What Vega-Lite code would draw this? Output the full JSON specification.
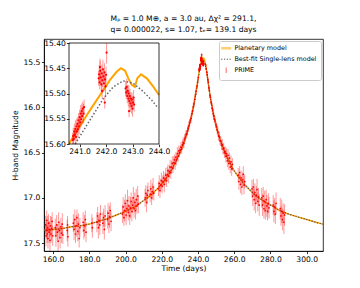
{
  "$schema": "https://vega.github.io/schema/vega-lite/v6.json",
  "width": 279,
  "height": 212,
  "autosize": {"type": "none"},
  "padding": {"left": 44, "top": 39, "right": 37, "bottom": 37},
  "background": "white",
  "title": {
    "text": ["Mₚ = 1.0 M⊕, a = 3.0 au,  Δχ² = 291.1,", "q= 0.000022, s= 1.07, tₑ= 139.1 days"],
    "font": "DejaVu Sans", "fontSize": 7.6, "fontWeight": "normal", "color": "#000",
    "anchor": "middle", "offset": 5, "lineHeight": 11
  },
  "config": {
    "view": {"stroke": "#000", "strokeWidth": 0.8},
    "axis": {
      "labelFont": "DejaVu Sans", "labelFontSize": 7.6, "labelColor": "#000",
      "titleFont": "DejaVu Sans", "titleFontSize": 7.6, "titleFontWeight": "normal", "titleColor": "#000",
      "tickColor": "#000", "tickSize": 2.6, "tickWidth": 0.8,
      "domainColor": "#000", "domainWidth": 0.8, "grid": false,
      "labelOverlap": false, "labelBound": false, "labelFlush": false
    },
    "axisX": {"labelOverlap": false, "labelSeparation": 0},
    "axisBottom": {"labelOverlap": false}
  },
  "datasets": {
    "pm": [
      {"t":155,"m":17.36},{"t":160,"m":17.35},{"t":165,"m":17.34},{"t":170,"m":17.32},{"t":175,"m":17.31},
      {"t":180,"m":17.29},{"t":185,"m":17.26},{"t":190,"m":17.23},{"t":195,"m":17.19},{"t":200,"m":17.15},
      {"t":205,"m":17.10},{"t":210,"m":17.03},{"t":214,"m":16.97},{"t":218,"m":16.89},{"t":222,"m":16.80},
      {"t":226,"m":16.67},{"t":228,"m":16.59},{"t":230,"m":16.50},{"t":232,"m":16.40},{"t":234,"m":16.28},
      {"t":236,"m":16.13},{"t":237,"m":16.04},{"t":238,"m":15.93},{"t":239,"m":15.81},{"t":240,"m":15.69},
      {"t":240.6,"m":15.60},{"t":240.83,"m":15.579},{"t":241.02,"m":15.564},{"t":241.27,"m":15.543},
      {"t":241.52,"m":15.523},{"t":241.9,"m":15.493},{"t":242.15,"m":15.473},{"t":242.4,"m":15.457},
      {"t":242.56,"m":15.45},{"t":242.72,"m":15.455},{"t":242.84,"m":15.47},{"t":242.97,"m":15.483},
      {"t":243.09,"m":15.487},{"t":243.18,"m":15.47},{"t":243.32,"m":15.462},{"t":243.54,"m":15.47},
      {"t":243.79,"m":15.487},{"t":244.0,"m":15.503},{"t":244.5,"m":15.56},{"t":245,"m":15.63},
      {"t":245.6,"m":15.72},{"t":246.3,"m":15.82},{"t":247,"m":15.91},{"t":248,"m":16.02},{"t":249,"m":16.12},
      {"t":250,"m":16.20},{"t":251,"m":16.28},{"t":252,"m":16.34},{"t":253,"m":16.40},{"t":254,"m":16.45},
      {"t":255,"m":16.50},{"t":256,"m":16.55},{"t":257,"m":16.59},{"t":258,"m":16.63},{"t":259,"m":16.67},
      {"t":260,"m":16.70},{"t":262,"m":16.76},{"t":264,"m":16.81},{"t":266,"m":16.86},{"t":268,"m":16.90},
      {"t":270,"m":16.94},{"t":272,"m":16.98},{"t":275,"m":17.02},{"t":278,"m":17.06},{"t":281,"m":17.09},
      {"t":285,"m":17.14},{"t":290,"m":17.18},{"t":295,"m":17.21},{"t":300,"m":17.24},{"t":305,"m":17.27},
      {"t":309,"m":17.29}
    ],
    "sl": [
      {"t":155,"m":17.36},{"t":160,"m":17.35},{"t":165,"m":17.34},{"t":170,"m":17.32},{"t":175,"m":17.31},
      {"t":180,"m":17.29},{"t":185,"m":17.26},{"t":190,"m":17.23},{"t":195,"m":17.19},{"t":200,"m":17.15},
      {"t":205,"m":17.10},{"t":210,"m":17.03},{"t":214,"m":16.97},{"t":218,"m":16.89},{"t":222,"m":16.80},
      {"t":226,"m":16.67},{"t":228,"m":16.59},{"t":230,"m":16.50},{"t":232,"m":16.40},{"t":234,"m":16.28},
      {"t":236,"m":16.13},{"t":237,"m":16.05},{"t":238,"m":15.95},{"t":239,"m":15.83},{"t":240,"m":15.70},
      {"t":240.83,"m":15.60},{"t":241.4,"m":15.552},{"t":241.9,"m":15.51},{"t":242.27,"m":15.487},
      {"t":242.65,"m":15.475},{"t":243.03,"m":15.48},{"t":243.4,"m":15.496},{"t":243.72,"m":15.513},
      {"t":243.97,"m":15.529},{"t":244.5,"m":15.57},{"t":245,"m":15.63},
      {"t":245.6,"m":15.72},{"t":246.3,"m":15.82},{"t":247,"m":15.91},{"t":248,"m":16.02},{"t":249,"m":16.12},
      {"t":250,"m":16.20},{"t":251,"m":16.28},{"t":252,"m":16.34},{"t":253,"m":16.40},{"t":254,"m":16.45},
      {"t":255,"m":16.50},{"t":256,"m":16.55},{"t":257,"m":16.59},{"t":258,"m":16.63},{"t":259,"m":16.67},
      {"t":260,"m":16.70},{"t":262,"m":16.76},{"t":264,"m":16.81},{"t":266,"m":16.86},{"t":268,"m":16.90},
      {"t":270,"m":16.94},{"t":272,"m":16.98},{"t":275,"m":17.02},{"t":278,"m":17.06},{"t":281,"m":17.09},
      {"t":285,"m":17.14},{"t":290,"m":17.18},{"t":295,"m":17.21},{"t":300,"m":17.24},{"t":305,"m":17.27},
      {"t":309,"m":17.29}
    ],
    "obs": [
      {"t":155.9,"m":17.30,"e":0.10},{"t":156.1,"m":17.42,"e":0.12},{"t":156.3,"m":17.36,"e":0.09},{"t":156.5,"m":17.25,"e":0.11},
      {"t":156.8,"m":17.40,"e":0.10},{"t":157.0,"m":17.33,"e":0.13},{"t":157.2,"m":17.45,"e":0.11},{"t":157.5,"m":17.28,"e":0.10},
      {"t":157.8,"m":17.38,"e":0.12},{"t":158.0,"m":17.35,"e":0.09},{"t":158.3,"m":17.47,"e":0.12},{"t":158.6,"m":17.31,"e":0.11},
      {"t":158.9,"m":17.40,"e":0.10},{"t":159.2,"m":17.34,"e":0.13},{"t":159.5,"m":17.26,"e":0.10},{"t":159.8,"m":17.42,"e":0.11},
      {"t":161.2,"m":17.33,"e":0.10},{"t":161.6,"m":17.42,"e":0.12},{"t":162.0,"m":17.30,"e":0.11},{"t":162.4,"m":17.38,"e":0.09},
      {"t":162.8,"m":17.48,"e":0.13},{"t":163.1,"m":17.27,"e":0.11},{"t":163.5,"m":17.36,"e":0.10},{"t":163.9,"m":17.44,"e":0.12},
      {"t":164.3,"m":17.32,"e":0.10},{"t":164.7,"m":17.39,"e":0.11},{"t":165.1,"m":17.29,"e":0.12},{"t":165.4,"m":17.41,"e":0.10},
      {"t":167.8,"m":17.36,"e":0.12},{"t":168.0,"m":17.30,"e":0.10},{"t":168.2,"m":17.43,"e":0.11},
      {"t":171.2,"m":17.28,"e":0.10},{"t":171.6,"m":17.35,"e":0.12},{"t":172.0,"m":17.24,"e":0.11},{"t":172.4,"m":17.40,"e":0.10},
      {"t":172.8,"m":17.31,"e":0.12},{"t":173.2,"m":17.22,"e":0.09},{"t":173.6,"m":17.37,"e":0.11},{"t":174.0,"m":17.29,"e":0.12},
      {"t":174.4,"m":17.45,"e":0.10},{"t":174.8,"m":17.33,"e":0.11},
      {"t":176.6,"m":17.27,"e":0.11},{"t":177.0,"m":17.36,"e":0.10},{"t":177.4,"m":17.31,"e":0.12},{"t":177.8,"m":17.24,"e":0.10},
      {"t":178.2,"m":17.38,"e":0.11},
      {"t":181.4,"m":17.28,"e":0.10},{"t":181.7,"m":17.33,"e":0.11},
      {"t":184.2,"m":17.27,"e":0.11},{"t":184.6,"m":17.20,"e":0.10},{"t":185.0,"m":17.33,"e":0.12},{"t":185.4,"m":17.25,"e":0.09},
      {"t":185.8,"m":17.30,"e":0.11},{"t":186.2,"m":17.18,"e":0.10},{"t":187.5,"m":17.28,"e":0.12},{"t":187.9,"m":17.22,"e":0.10},
      {"t":188.3,"m":17.35,"e":0.11},{"t":188.7,"m":17.20,"e":0.12},{"t":190.0,"m":17.24,"e":0.10},{"t":190.4,"m":17.17,"e":0.11},
      {"t":190.8,"m":17.29,"e":0.10},{"t":191.2,"m":17.21,"e":0.12},{"t":191.6,"m":17.14,"e":0.09},{"t":192.0,"m":17.26,"e":0.11},
      {"t":198.3,"m":17.18,"e":0.10},{"t":198.7,"m":17.10,"e":0.11},{"t":199.1,"m":17.22,"e":0.09},{"t":199.5,"m":17.14,"e":0.12},
      {"t":199.9,"m":17.06,"e":0.10},{"t":200.3,"m":17.19,"e":0.11},{"t":200.7,"m":17.12,"e":0.10},{"t":201.1,"m":17.03,"e":0.12},
      {"t":201.5,"m":17.16,"e":0.09},{"t":201.9,"m":17.09,"e":0.11},{"t":202.3,"m":17.20,"e":0.10},{"t":202.7,"m":17.11,"e":0.12},
      {"t":203.1,"m":17.04,"e":0.10},{"t":203.5,"m":17.15,"e":0.11},{"t":203.9,"m":17.08,"e":0.09},{"t":204.3,"m":17.00,"e":0.12},
      {"t":204.7,"m":17.12,"e":0.10},{"t":205.1,"m":17.05,"e":0.11},{"t":205.5,"m":17.14,"e":0.10},{"t":205.9,"m":17.02,"e":0.12},
      {"t":206.3,"m":17.09,"e":0.09},{"t":206.7,"m":16.98,"e":0.11},{"t":207.1,"m":17.07,"e":0.10},
      {"t":210.8,"m":17.00,"e":0.10},{"t":211.2,"m":16.95,"e":0.09},{"t":211.6,"m":17.05,"e":0.11},{"t":212.0,"m":16.97,"e":0.10},
      {"t":212.4,"m":16.92,"e":0.09},
      {"t":213.6,"m":16.96,"e":0.09},{"t":214.0,"m":16.90,"e":0.10},{"t":214.4,"m":17.00,"e":0.08},{"t":214.8,"m":16.93,"e":0.09},
      {"t":215.2,"m":16.88,"e":0.10},{"t":215.6,"m":16.95,"e":0.08},
      {"t":218.2,"m":16.90,"e":0.08},{"t":218.6,"m":16.84,"e":0.09},{"t":219.0,"m":16.92,"e":0.08},{"t":219.4,"m":16.86,"e":0.07},
      {"t":219.8,"m":16.81,"e":0.09},{"t":220.2,"m":16.87,"e":0.08},{"t":220.6,"m":16.82,"e":0.07},{"t":221.0,"m":16.78,"e":0.08},
      {"t":221.4,"m":16.85,"e":0.09},{"t":221.8,"m":16.79,"e":0.07},{"t":222.2,"m":16.75,"e":0.08},{"t":222.6,"m":16.81,"e":0.07},
      {"t":223.0,"m":16.74,"e":0.08},{"t":223.4,"m":16.70,"e":0.07},{"t":223.8,"m":16.76,"e":0.08},{"t":224.2,"m":16.71,"e":0.07},
      {"t":224.6,"m":16.66,"e":0.08},{"t":225.0,"m":16.72,"e":0.07},{"t":225.4,"m":16.66,"e":0.07},{"t":225.8,"m":16.62,"e":0.08},
      {"t":226.2,"m":16.67,"e":0.06},{"t":226.6,"m":16.61,"e":0.07},{"t":227.0,"m":16.58,"e":0.06},{"t":227.4,"m":16.62,"e":0.07},
      {"t":227.8,"m":16.55,"e":0.06},{"t":228.2,"m":16.58,"e":0.06},{"t":228.6,"m":16.51,"e":0.07},{"t":229.0,"m":16.54,"e":0.06},
      {"t":229.4,"m":16.48,"e":0.06},{"t":229.8,"m":16.50,"e":0.05},
      {"t":230.2,"m":16.47,"e":0.05},{"t":230.6,"m":16.44,"e":0.06},{"t":231.0,"m":16.46,"e":0.05},{"t":231.4,"m":16.41,"e":0.05},
      {"t":231.8,"m":16.39,"e":0.06},{"t":232.2,"m":16.40,"e":0.05},{"t":232.6,"m":16.35,"e":0.05},{"t":233.0,"m":16.33,"e":0.05},
      {"t":233.4,"m":16.30,"e":0.05},{"t":233.8,"m":16.29,"e":0.04},{"t":234.2,"m":16.26,"e":0.05},{"t":234.6,"m":16.23,"e":0.04},
      {"t":235.0,"m":16.20,"e":0.05},{"t":235.4,"m":16.17,"e":0.04},{"t":235.8,"m":16.14,"e":0.04},{"t":236.2,"m":16.12,"e":0.05},
      {"t":236.6,"m":16.07,"e":0.04},{"t":237.0,"m":16.04,"e":0.04},{"t":237.4,"m":15.99,"e":0.04},{"t":237.8,"m":15.96,"e":0.04},
      {"t":238.2,"m":15.91,"e":0.04},{"t":238.6,"m":15.86,"e":0.04},{"t":239.0,"m":15.82,"e":0.04},{"t":239.4,"m":15.77,"e":0.03},
      {"t":239.8,"m":15.72,"e":0.04},{"t":240.2,"m":15.67,"e":0.03},
      {"t":240.74,"m":15.592,"e":0.014},{"t":240.76,"m":15.584,"e":0.016},{"t":240.78,"m":15.590,"e":0.013},{"t":240.80,"m":15.575,"e":0.015},
      {"t":240.82,"m":15.582,"e":0.012},{"t":240.84,"m":15.570,"e":0.017},{"t":240.86,"m":15.586,"e":0.014},{"t":240.88,"m":15.565,"e":0.015},
      {"t":240.90,"m":15.575,"e":0.016},{"t":240.92,"m":15.560,"e":0.013},{"t":240.94,"m":15.571,"e":0.015},{"t":240.96,"m":15.553,"e":0.014},
      {"t":240.98,"m":15.565,"e":0.016},{"t":241.00,"m":15.547,"e":0.015},{"t":241.02,"m":15.557,"e":0.013},{"t":241.04,"m":15.540,"e":0.017},
      {"t":241.06,"m":15.551,"e":0.014},{"t":241.08,"m":15.535,"e":0.015},{"t":241.10,"m":15.545,"e":0.016},{"t":241.12,"m":15.530,"e":0.014},
      {"t":241.15,"m":15.540,"e":0.019},{"t":241.17,"m":15.527,"e":0.015},
      {"t":241.72,"m":15.470,"e":0.015},{"t":241.74,"m":15.462,"e":0.018},{"t":241.76,"m":15.478,"e":0.014},{"t":241.78,"m":15.455,"e":0.020},
      {"t":241.80,"m":15.468,"e":0.016},{"t":241.82,"m":15.482,"e":0.015},{"t":241.84,"m":15.460,"e":0.017},{"t":241.86,"m":15.474,"e":0.013},
      {"t":241.88,"m":15.452,"e":0.019},{"t":241.90,"m":15.466,"e":0.015},{"t":241.92,"m":15.480,"e":0.016},{"t":241.94,"m":15.458,"e":0.018},
      {"t":241.96,"m":15.472,"e":0.014},{"t":241.98,"m":15.486,"e":0.020},{"t":242.00,"m":15.463,"e":0.016},{"t":241.95,"m":15.518,"e":0.012},
      {"t":242.02,"m":15.419,"e":0.022},{"t":241.85,"m":15.495,"e":0.015},{"t":241.77,"m":15.448,"e":0.017},
      {"t":242.74,"m":15.490,"e":0.015},{"t":242.76,"m":15.498,"e":0.013},{"t":242.78,"m":15.487,"e":0.016},{"t":242.80,"m":15.505,"e":0.014},
      {"t":242.82,"m":15.495,"e":0.012},{"t":242.84,"m":15.510,"e":0.015},{"t":242.86,"m":15.500,"e":0.017},{"t":242.88,"m":15.515,"e":0.013},
      {"t":242.90,"m":15.505,"e":0.014},{"t":242.92,"m":15.520,"e":0.016},{"t":242.94,"m":15.510,"e":0.013},{"t":242.96,"m":15.525,"e":0.015},
      {"t":242.98,"m":15.512,"e":0.014},{"t":243.00,"m":15.530,"e":0.016},{"t":243.02,"m":15.518,"e":0.013},{"t":243.04,"m":15.508,"e":0.015},
      {"t":243.06,"m":15.522,"e":0.014},{"t":242.87,"m":15.535,"e":0.012},
      {"t":244.2,"m":15.53,"e":0.02},{"t":244.5,"m":15.57,"e":0.02},{"t":244.8,"m":15.61,"e":0.02},{"t":245.1,"m":15.64,"e":0.03},
      {"t":245.4,"m":15.69,"e":0.03},{"t":245.7,"m":15.72,"e":0.03},{"t":246.0,"m":15.78,"e":0.03},{"t":246.3,"m":15.81,"e":0.03},
      {"t":246.6,"m":15.87,"e":0.03},{"t":246.9,"m":15.89,"e":0.03},{"t":247.2,"m":15.94,"e":0.03},{"t":247.5,"m":15.96,"e":0.03},
      {"t":247.8,"m":16.01,"e":0.04},{"t":248.1,"m":16.02,"e":0.04},{"t":248.4,"m":16.07,"e":0.04},{"t":248.7,"m":16.09,"e":0.04},
      {"t":249.0,"m":16.13,"e":0.04},{"t":249.4,"m":16.14,"e":0.04},{"t":249.8,"m":16.19,"e":0.04},{"t":250.2,"m":16.21,"e":0.04},
      {"t":250.6,"m":16.25,"e":0.05},{"t":251.0,"m":16.27,"e":0.05},{"t":251.4,"m":16.32,"e":0.05},{"t":251.8,"m":16.32,"e":0.05},
      {"t":252.2,"m":16.37,"e":0.05},{"t":252.6,"m":16.37,"e":0.05},{"t":253.0,"m":16.42,"e":0.05},{"t":253.4,"m":16.41,"e":0.06},
      {"t":253.8,"m":16.46,"e":0.06},{"t":254.2,"m":16.45,"e":0.06},{"t":254.6,"m":16.50,"e":0.06},{"t":255.0,"m":16.49,"e":0.06},
      {"t":255.4,"m":16.54,"e":0.07},{"t":255.8,"m":16.51,"e":0.06},{"t":256.2,"m":16.59,"e":0.07},{"t":256.6,"m":16.53,"e":0.07},
      {"t":257.0,"m":16.62,"e":0.07},{"t":257.4,"m":16.56,"e":0.06},{"t":257.8,"m":16.66,"e":0.07},{"t":258.2,"m":16.60,"e":0.07},
      {"t":258.6,"m":16.68,"e":0.08},{"t":259.0,"m":16.63,"e":0.07},
      {"t":262.2,"m":16.75,"e":0.08},{"t":262.6,"m":16.82,"e":0.09},{"t":263.0,"m":16.72,"e":0.07},{"t":263.4,"m":16.85,"e":0.10},
      {"t":263.8,"m":16.78,"e":0.08},{"t":264.2,"m":16.88,"e":0.09},{"t":264.6,"m":16.80,"e":0.08},{"t":265.0,"m":16.74,"e":0.09},
      {"t":265.4,"m":16.86,"e":0.10},{"t":265.8,"m":16.82,"e":0.08},
      {"t":269.8,"m":16.90,"e":0.10},{"t":270.2,"m":16.98,"e":0.11},{"t":270.6,"m":16.88,"e":0.09},{"t":271.0,"m":17.02,"e":0.12},
      {"t":271.4,"m":16.94,"e":0.10},{"t":271.8,"m":17.06,"e":0.11},{"t":272.2,"m":16.97,"e":0.10},{"t":272.6,"m":16.91,"e":0.12},
      {"t":273.0,"m":17.04,"e":0.11},{"t":273.4,"m":16.99,"e":0.10},{"t":273.8,"m":17.08,"e":0.12},
      {"t":275.2,"m":17.00,"e":0.11},{"t":275.6,"m":17.08,"e":0.12},{"t":276.0,"m":16.98,"e":0.10},{"t":276.4,"m":17.12,"e":0.11},
      {"t":276.8,"m":17.04,"e":0.12},{"t":277.2,"m":17.14,"e":0.10},{"t":277.6,"m":17.02,"e":0.11},{"t":278.0,"m":17.09,"e":0.12},
      {"t":278.4,"m":17.15,"e":0.10},{"t":278.8,"m":17.06,"e":0.11},{"t":279.2,"m":17.11,"e":0.12},
      {"t":281.5,"m":17.08,"e":0.11},{"t":281.9,"m":17.15,"e":0.12},{"t":282.3,"m":17.10,"e":0.10},{"t":282.7,"m":17.18,"e":0.11},
      {"t":283.1,"m":17.06,"e":0.12},
      {"t":285.4,"m":17.12,"e":0.12},{"t":285.8,"m":17.20,"e":0.11},{"t":286.2,"m":17.15,"e":0.13},{"t":286.6,"m":17.24,"e":0.12},
      {"t":287.0,"m":17.17,"e":0.11},{"t":287.4,"m":17.27,"e":0.13},{"t":287.8,"m":17.19,"e":0.12}
    ]
  },
  "layer": [
    {
      "layer": [
        {
          "data": {"name": "pm"},
          "mark": {"type": "line", "strokeWidth": 1.4},
          "encoding": {
            "x": {"field": "t", "type": "quantitative", "title": "Time (days)",
              "scale": {"domain": [155, 309], "nice": false, "zero": false},
              "axis": {"orient": "bottom", "title": "Time (days)", "values": [160,180,200,220,240,260,280,300], "format": ".1f", "labelPadding": 1.5, "titlePadding": 2, "labelOverlap": false, "labelBound": false, "labelFlush": false, "labelSeparation": 0}},
            "y": {"field": "m", "type": "quantitative", "title": "H-band Magnitude",
              "scale": {"domain": [15.243, 17.588], "reverse": true, "nice": false, "zero": false, "clamp": true},
              "axis": {"orient": "left", "title": "H-band Magnitude", "values": [15.5,16,16.5,17,17.5], "format": ".1f", "labelPadding": 1.5, "titlePadding": 3, "labelOverlap": false, "labelBound": false, "labelFlush": false}},
            "color": {"datum": "Planetary model", "type": "nominal",
              "scale": {"domain": ["Planetary model", "Best-fit Single-lens model", "PRIME"], "range": ["#ffa500", "#555555", "#ff0000"]},
              "legend": {
                "title": null, "orient": "top-right", "offset": 2,
                "symbolType": "stroke", "symbolSize": 100, "symbolStrokeWidth": 2,
                "labelFont": "DejaVu Sans", "labelFontSize": 6.4, "labelColor": "#000", "labelOffset": 5,
                "fillColor": "#ffffff", "strokeColor": "#cccccc", "cornerRadius": 2, "padding": 4, "rowPadding": 2,
                "encode": {"symbols": {"update": {
                  "shape": {"signal": "datum.value === 'PRIME' ? 'M0,-0.55L0,0.55' : 'stroke'"},
                  "strokeDash": {"signal": "datum.value === 'Best-fit Single-lens model' ? [1.2, 1.6] : [1, 0]"},
                  "strokeWidth": {"signal": "datum.value === 'Best-fit Single-lens model' ? 1 : (datum.value === 'PRIME' ? 1.2 : 2.5)"},
                  "opacity": {"signal": "datum.value === 'Planetary model' ? 0.55 : (datum.value === 'PRIME' ? 0.5 : 1)"}
                }}}
              }}
          }
        },
        {
          "data": {"name": "sl"},
          "mark": {"type": "line", "strokeWidth": 1.2, "strokeDash": [1.2, 1.6]},
          "encoding": {
            "x": {"field": "t", "type": "quantitative", "title": "Time (days)", "axis": {"orient": "bottom", "title": "Time (days)", "values": [160,180,200,220,240,260,280,300], "format": ".1f", "labelPadding": 1.5, "titlePadding": 2, "labelOverlap": false, "labelBound": false, "labelFlush": false, "labelSeparation": 0}},
            "y": {"field": "m", "type": "quantitative", "title": "H-band Magnitude"},
            "color": {"datum": "Best-fit Single-lens model", "type": "nominal"}
          }
        },
        {
          "data": {"name": "obs"},
          "mark": {"type": "errorbar", "ticks": false, "thickness": 0.9, "opacity": 0.45},
          "encoding": {
            "x": {"field": "t", "type": "quantitative", "title": "Time (days)", "axis": {"orient": "bottom", "title": "Time (days)", "values": [160,180,200,220,240,260,280,300], "format": ".1f", "labelPadding": 1.5, "titlePadding": 2, "labelOverlap": false, "labelBound": false, "labelFlush": false, "labelSeparation": 0}},
            "y": {"field": "m", "type": "quantitative", "title": "H-band Magnitude"},
            "yError": {"field": "e"},
            "color": {"datum": "PRIME", "type": "nominal"}
          }
        },
        {
          "data": {"name": "obs"},
          "mark": {"type": "circle", "size": 3, "opacity": 1},
          "encoding": {
            "x": {"field": "t", "type": "quantitative", "title": "Time (days)", "axis": {"orient": "bottom", "title": "Time (days)", "values": [160,180,200,220,240,260,280,300], "format": ".1f", "labelPadding": 1.5, "titlePadding": 2, "labelOverlap": false, "labelBound": false, "labelFlush": false, "labelSeparation": 0}},
            "y": {"field": "m", "type": "quantitative", "title": "H-band Magnitude"},
            "color": {"datum": "PRIME", "type": "nominal"}
          }
        }
      ]
    },
    {
      "layer": [
        {
          "data": {"name": "pm"},
          "transform": [{"filter": {"field": "t", "range": [240.6, 244.0]}}],
          "mark": {"type": "line", "color": "#ffa500", "strokeWidth": 2},
          "encoding": {
            "x": {"field": "t", "type": "quantitative", "title": null,
              "scale": {"domain": [240.6, 244.0], "range": [25, 115], "nice": false, "zero": false, "clamp": true},
              "axis": {"orient": "bottom", "offset": -107, "title": null, "domain": false, "values": [241,242,243,244], "format": ".1f", "labelPadding": 1, "labelOverlap": false, "labelBound": false, "labelFlush": false}},
            "y": {"field": "m", "type": "quantitative", "title": null,
              "scale": {"domain": [15.40, 15.60], "range": [4, 105], "nice": false, "zero": false, "clamp": true},
              "axis": {"orient": "left", "offset": -25, "title": null, "domain": false, "values": [15.40,15.45,15.50,15.55,15.60], "format": ".2f", "labelPadding": 1, "labelOverlap": false, "labelBound": false, "labelFlush": false}}
          }
        },
        {
          "data": {"name": "sl"},
          "transform": [{"filter": {"field": "t", "range": [240.6, 244.0]}}],
          "mark": {"type": "line", "color": "#666666", "strokeWidth": 1.5, "strokeDash": [1.5, 2]},
          "encoding": {
            "x": {"field": "t", "type": "quantitative", "title": null},
            "y": {"field": "m", "type": "quantitative", "title": null}
          }
        },
        {
          "data": {"name": "obs"},
          "transform": [{"filter": {"field": "t", "range": [240.6, 244.0]}}],
          "mark": {"type": "errorbar", "ticks": false, "thickness": 1, "opacity": 0.4, "color": "#ff0000"},
          "encoding": {
            "x": {"field": "t", "type": "quantitative", "title": null},
            "y": {"field": "m", "type": "quantitative", "title": null},
            "yError": {"field": "e"}
          }
        },
        {
          "data": {"name": "obs"},
          "transform": [{"filter": {"field": "t", "range": [240.6, 244.0]}}],
          "mark": {"type": "circle", "size": 5, "opacity": 1, "color": "#ff0000"},
          "encoding": {
            "x": {"field": "t", "type": "quantitative", "title": null},
            "y": {"field": "m", "type": "quantitative", "title": null}
          }
        },
        {
          "data": {"values": [{}]},
          "mark": {"type": "rect", "fill": "transparent", "stroke": "#000", "strokeWidth": 0.8},
          "encoding": {
            "x": {"datum": 240.6, "type": "quantitative"},
            "x2": {"datum": 244.0},
            "y": {"datum": 15.40, "type": "quantitative"},
            "y2": {"datum": 15.60}
          }
        }
      ]
    }
  ],
  "resolve": {"scale": {"x": "independent", "y": "independent"}, "axis": {"x": "independent", "y": "independent"}}
}
